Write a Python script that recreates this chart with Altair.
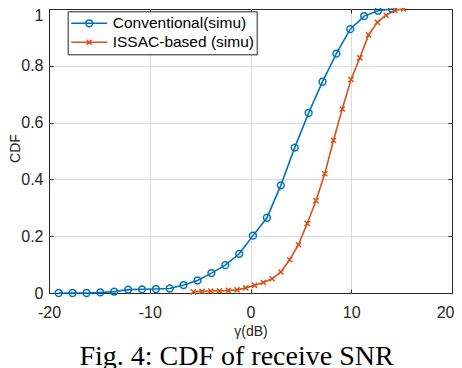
import altair as alt
import pandas as pd

series_names = ["Conventional(simu)", "ISSAC-based (simu)"]
series_colors = ["#0072BD", "#D95319"]

conv_x = [-19.04, -17.66, -16.28, -14.91, -13.53, -12.15, -10.77, -9.39, -8.02, -6.64,
          -5.26, -3.88, -2.50, -1.12, 0.25, 1.63, 3.01, 4.39, 5.77, 7.15,
          8.52, 9.90, 11.28, 12.66, 14.04]
conv_y = [0.0, 0.0, 0.0, 0.002, 0.005, 0.012, 0.013, 0.014, 0.016, 0.028,
          0.044, 0.070, 0.098, 0.138, 0.202, 0.265, 0.379, 0.512, 0.634, 0.744,
          0.843, 0.929, 0.975, 0.994, 1.0]
issac_x = [-5.68, -4.81, -3.94, -3.07, -2.20, -1.33, -0.46, 0.41, 1.28, 2.15,
           3.02, 3.89, 4.76, 5.63, 6.50, 7.37, 8.24, 9.11, 9.98, 10.85,
           11.72, 12.59, 13.46, 14.33, 15.20]
issac_y = [0.004, 0.006, 0.007, 0.008, 0.009, 0.011, 0.018, 0.027, 0.037, 0.050,
           0.074, 0.117, 0.170, 0.245, 0.325, 0.420, 0.538, 0.648, 0.752, 0.828,
           0.909, 0.953, 0.978, 0.996, 1.0]

x_ticks = [-20, -10, 0, 10, 20]
y_ticks = [0, 0.2, 0.4, 0.6, 0.8, 1]
x_title = "γ(dB)"
y_title = "CDF"
caption = "Fig. 4: CDF of receive SNR"

df = pd.concat([
    pd.DataFrame({"series": series_names[0], "x": conv_x, "y": conv_y, "order": range(len(conv_x))}),
    pd.DataFrame({"series": series_names[1], "x": issac_x, "y": issac_y, "order": range(len(issac_x))}),
])
cap_df = pd.DataFrame({"t": [caption]})

marker_paths = [
    "M1,0A1,1 0 1,1 -1,0A1,1 0 1,1 1,0Z",
    "M-0.75,-0.75L0.75,0.75M-0.75,0.75L0.75,-0.75",
]
legend_paths = [
    "M-1,0L1,0M0.19,0A0.19,0.19 0 1,1 -0.19,0A0.19,0.19 0 1,1 0.19,0Z",
    "M-1,0L1,0M-0.14,-0.14L0.14,0.14M-0.14,0.14L0.14,-0.14",
]

AX = "#262626"
FONT = "Liberation Sans"

xscale = alt.Scale(domain=[-20, 20], nice=False, zero=False)
yscale = alt.Scale(domain=[0, 1], nice=False, zero=False)

def color_enc(legend=None):
    return alt.Color("series:N", scale=alt.Scale(domain=series_names, range=series_colors), legend=legend)

grid_x_op = {"condition": {"test": "abs(datum.value) == 20", "value": 0}, "value": 1}
grid_y_op = {"condition": {"test": "datum.value == 0 || datum.value == 1", "value": 0}, "value": 1}
x_label_align = {"condition": {"test": "datum.value == 20", "value": "right"}, "value": "center"}
x_label_off = {"condition": {"test": "datum.value == 20", "value": 2}, "value": 0}
y_label_base = {"condition": {"test": "datum.value == 1", "value": "top"}, "value": "middle"}
y_label_off = {"condition": {"test": "datum.value == 1", "value": -1.5}, "value": 0}

def tick_axis(orient, values):
    return alt.Axis(orient=orient, offset=-4, values=values, ticks=True, tickSize=4,
                    tickColor=AX, tickWidth=1, labels=False, domain=False, grid=False, title=None)

lines = alt.Chart(df).mark_line(strokeWidth=1.6).encode(
    x=alt.X("x:Q", scale=xscale, axis=alt.Axis(
        orient="bottom", values=x_ticks, labelExpr="'' + datum.value", ticks=False, domain=False,
        grid=True, gridColor="#dcdcdc", gridOpacity=grid_x_op, labelFontSize=16, labelPadding=11,
        labelAlign=x_label_align, labelOffset=x_label_off,
        labelFont=FONT, labelColor=AX, title=x_title, titleFont=FONT, titleFontSize=14,
        titleFontWeight="normal", titleColor=AX, titlePadding=4)),
    y=alt.Y("y:Q", scale=yscale, axis=alt.Axis(
        orient="left", values=y_ticks, labelExpr="'' + datum.value", ticks=False, domain=False,
        grid=True, gridColor="#dcdcdc", gridOpacity=grid_y_op, labelFontSize=16, labelPadding=6,
        labelBaseline=y_label_base, labelOffset=y_label_off,
        labelFont=FONT, labelColor=AX, title=y_title, titleFont=FONT, titleFontSize=14,
        titleFontWeight="normal", titleColor=AX, titleX=-30, titleY=139, titleAngle=270,
        titleBaseline="alphabetic", titleAlign="center")),
    color=color_enc(),
    detail="series:N",
    order="order:Q",
)

points = alt.Chart(df).mark_point(filled=False, strokeWidth=1.5, size=46, opacity=1).encode(
    x=alt.X("x:Q", scale=xscale, axis=tick_axis("bottom", x_ticks)),
    y=alt.Y("y:Q", scale=yscale, axis=tick_axis("left", y_ticks)),
    color=color_enc(),
    shape=alt.Shape("series:N", scale=alt.Scale(domain=series_names, range=marker_paths), legend=None),
)

leg = alt.Legend(title=None, orient="none", legendX=18.7, legendY=2.3, fillColor="white",
                 strokeColor=AX, padding=2.5, symbolSize=1296, clipHeight=19, rowPadding=0,
                 labelOffset=4.5, labelFont=FONT, labelFontSize=15.5, labelColor="black",
                 labelLimit=0, symbolStrokeWidth=1.5, symbolFillColor="transparent")

legend_layer = alt.Chart(df).transform_filter("false").mark_point(filled=False, strokeWidth=1.5, opacity=1).encode(
    x=alt.X("x:Q", scale=xscale, axis=tick_axis("top", x_ticks)),
    y=alt.Y("y:Q", scale=yscale, axis=tick_axis("right", y_ticks)),
    color=color_enc(leg),
    shape=alt.Shape("series:N", scale=alt.Scale(domain=series_names, range=legend_paths), legend=leg),
)

cap = alt.Chart(cap_df).mark_text(font="Liberation Serif", fontSize=28, align="center",
                                  baseline="alphabetic", color="black").encode(
    text="t:N", x=alt.value(187.5), y=alt.value(355.5))

chart = alt.layer(lines, points, legend_layer, cap).resolve_scale(
    color="independent", shape="independent"
).resolve_axis(x="independent", y="independent").properties(
    width=403, height=284,
    padding={"left": 41, "top": 1, "right": 2, "bottom": 75},
    autosize=alt.AutoSizeParams(type="none"),
).configure_view(stroke=AX, strokeWidth=1)

chart.save("out.html", embed_options={"renderer": "svg", "actions": False})
